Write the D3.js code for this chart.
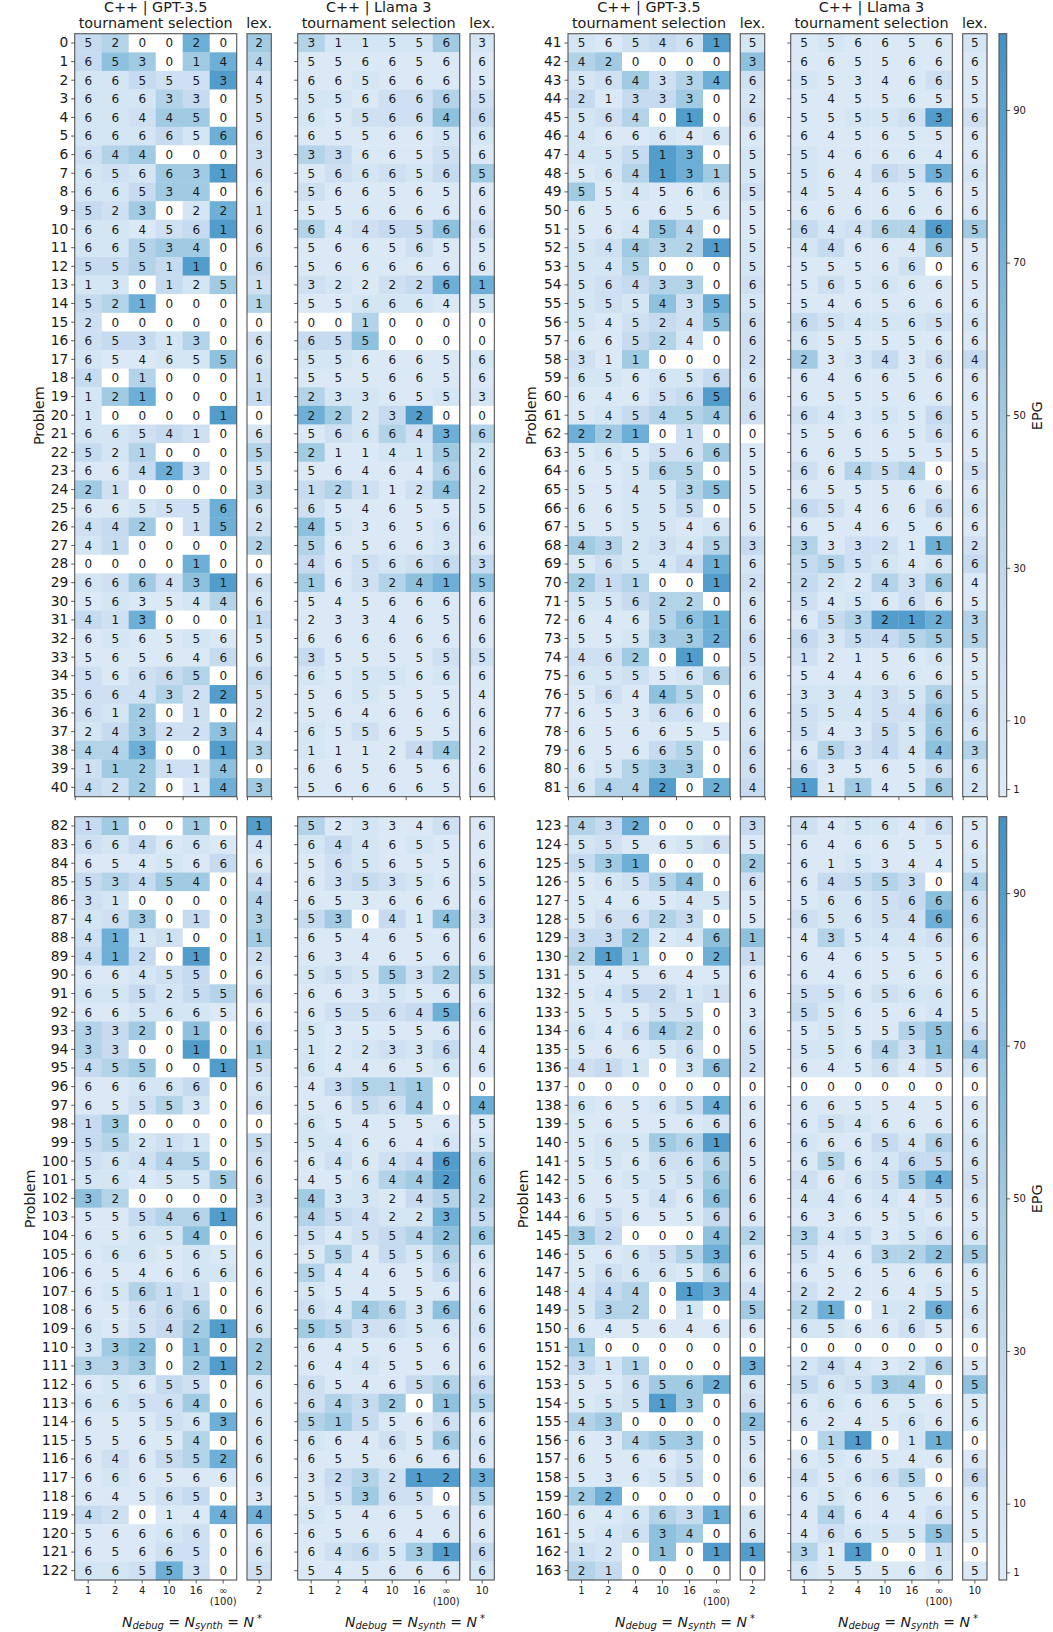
<!DOCTYPE html>
<html>
<head>
<meta charset="utf-8">
<script src="https://cdnjs.cloudflare.com/ajax/libs/d3/7.8.5/d3.min.js"></script>
<style>
html, body { margin: 0; padding: 0; background: #fff; }
svg { display: block; }
text { font-family: "DejaVu Sans", sans-serif; fill: #1a1a1a; }
</style>
</head>
<body>
<script>
// number of solved runs per problem (the digit printed in each cell), problems 0..163
var gptTour = (
  "520020 653014 665553 666330 664450 666656 644000 656631 665340 523022 664561 665340 555110 130125 521000 200000 653130 654655 401000 121000 100001 665410 521000 664230 210000 665556 442015 410000 000010 666431 563544 413000 656556 565646 566650 664322 612010 243223 443001 112114 422014 " +
  "565461 420000 564334 213330 564010 466646 455130 564131 554566 656656 564540 544321 545000 564330 555435 545245 665240 311000 656656 646565 545454 221010 565566 655650 554535 665550 555546 432345 565441 211001 556220 646561 555332 462010 655566 564450 653660 656655 656650 655330 644202 " +
  "110010 664666 654566 534540 310000 463010 411100 412010 664550 655255 665665 332010 330010 455001 666660 655530 130000 552110 564450 564555 320000 555461 656540 666565 654666 656110 656660 655421 332010 333021 656550 665640 655563 556540 646552 666566 645650 420144 566660 656650 665530 " +
  "432000 555656 531000 565540 546545 566230 332246 211002 545645 545211 555550 646420 566560 411036 000000 665654 565566 565561 556666 565556 655466 656556 320004 566553 566656 444013 532010 645646 100000 311000 556562 555130 430000 634530 656650 536550 220000 646631 546340 120101 210000"
).split(" ");

var llamaTour = (
  "311556 556656 665666 556666 655664 655665 336655 566656 566565 556666 644556 566565 566666 322226 556664 001000 655000 556665 555665 233655 222320 566643 211415 564646 121124 654655 453656 565663 465666 163241 545666 233465 666666 355555 655566 565555 564666 655655 111244 665656 566665 " +
  "556656 665566 553466 545565 555563 645655 546664 564655 454656 666666 644646 446646 555660 565666 546566 654565 655556 233436 646656 655566 643556 556656 665555 664540 655566 654666 654656 333211 555646 222436 545666 653212 635455 121566 544666 334356 554546 543556 653444 635656 111456 " +
  "523346 644655 565655 635356 653666 530414 654656 634656 555532 663556 655645 535556 122336 644656 435110 565640 654556 546646 646446 456442 433245 454223 545542 554556 544656 554556 644636 553656 645656 644556 654656 643201 515566 664656 655666 323212 553650 554656 656646 646531 545666 " +
  "445646 646655 615344 645530 566566 656546 435446 646555 646566 556566 556564 555555 556431 645645 000000 665545 654666 666546 656465 466554 446445 636556 345356 546322 656566 222645 210126 656665 000000 244326 565340 666656 624566 011011 656546 456650 656656 446446 466555 311001 655566"
).split(" ");

var gptLex = [
  2,4,4,5,5,6,3,6,6,1,6,6,6,1,1,0,6,6,1,1,0,6,5,5,3,6,2,2,0,6,6,1,5,6,6,5,2,4,3,0,3,
  5,3,6,2,6,6,5,5,5,5,5,5,5,6,5,6,6,2,6,6,6,0,5,5,5,5,6,3,6,2,6,6,6,5,6,6,6,6,6,6,4,
  1,4,6,4,4,3,1,2,6,6,6,6,1,5,6,6,0,5,6,6,3,6,6,6,6,6,6,6,2,2,6,6,6,6,6,6,3,4,6,6,5,
  3,5,2,6,5,5,1,1,6,6,3,6,5,2,0,6,6,6,5,6,6,6,2,6,6,4,5,6,0,3,6,6,2,5,6,6,0,6,6,1,0
];

var llamaLex = [
  3,6,5,5,6,6,6,5,6,6,6,5,6,1,5,0,0,6,6,3,0,6,2,6,2,5,6,6,3,5,6,6,6,5,6,4,6,6,2,6,6,
  5,6,5,5,6,6,6,6,5,6,5,5,6,5,6,6,6,4,6,6,5,6,5,5,6,6,6,2,6,4,5,3,5,5,5,5,6,6,3,6,2,
  6,6,6,5,6,3,6,6,5,6,6,6,4,6,0,4,5,5,6,6,2,5,6,6,6,6,6,6,6,6,6,5,6,6,6,3,5,6,6,6,6,
  5,6,5,4,6,6,6,6,6,6,5,6,4,6,0,6,6,6,6,5,6,5,6,5,6,5,6,6,0,5,5,5,6,0,6,6,6,5,5,0,5
];

// EPG read from the cell shade, stored as an index into epgBins (0 = no value, white)
var epgBins = [NaN, 3, 10, 17, 25, 37, 48, 58, 74, 90];

var gptTourEpg = (
  "450080 476068 224339 222540 223660 222428 356000 232669 224660 436028 221349 225660 445490 220426 458000 300000 344250 211227 405000 268000 200009 223430 425000 114830 630000 112338 346038 240000 000080 236379 121125 438000 121121 111114 313450 333539 326030 246337 558009 366337 436018 " +
  "213439 560000 236358 414460 235090 211212 224980 125986 612112 111111 112750 236559 225000 234550 232738 213437 114520 316000 221224 111349 124556 868030 121336 112550 112257 112240 112212 652325 132248 645009 224550 111578 112668 336090 223125 131750 111330 111111 111450 125660 255908 " +
  "460060 324121 111214 454660 320000 236040 382300 484090 112340 224245 112221 546070 540090 456009 112240 113520 460000 452320 323550 221226 750000 114559 112270 122121 111122 125430 113450 213469 267070 556069 121430 223360 111328 111150 131458 121111 111340 430118 111230 111330 223830 " +
  "548000 231123 468000 123570 111122 133540 447127 596008 111111 124423 111330 213650 111230 342027 000000 211248 111112 122659 121335 112236 111317 131114 640007 112358 132215 245098 255020 111111 600000 425000 113668 123960 560000 115660 111130 111240 680000 112548 123760 320709 540000"
).split(" ");

var llamaTourEpg = (
  "522226 111111 112111 221335 213337 111112 541113 132324 311111 111111 523447 111131 111111 321348 112221 005000 447000 221111 111111 522112 862490 132538 611226 111115 453137 311111 721112 511112 413234 613578 111111 111111 111111 411113 212212 112111 111111 213111 211146 111111 111111 " +
  "121111 111111 211113 111111 112239 111111 211111 211438 211111 111111 423559 241116 111130 131211 111111 432223 211111 612413 111111 111111 321214 111113 111111 315450 111111 431114 111111 513318 453212 421536 312131 145998 424456 311112 111111 222325 322336 311426 153427 311113 916116 " +
  "512113 242121 132111 134321 111111 460417 111111 111111 232636 111211 133348 211111 212324 211112 145560 114360 211111 221112 131349 112569 622145 543228 313457 151425 511114 211111 326527 653322 111111 112111 311145 354607 564113 211316 111111 145399 136330 211111 111111 134269 111111 " +
  "312213 111111 112111 144540 122347 322338 152223 111111 111111 331322 421112 121157 221537 111313 000000 111111 132111 211425 151244 312368 221213 111121 523123 311557 111111 311112 580228 221131 000000 242125 423660 121111 111121 059028 121111 312350 121111 151113 132227 519003 211112"
).split(" ");

var gptLexEpg = [
  6,5,3,3,3,3,3,3,2,3,3,3,4,3,5,0,3,2,3,4,0,2,5,2,5,2,3,5,0,3,2,4,2,2,4,3,3,2,5,0,6,
  2,7,3,2,3,1,2,2,3,1,1,2,2,3,2,3,3,3,2,3,3,0,1,1,1,1,1,4,2,3,2,2,3,3,2,2,2,2,3,3,4,
  9,2,1,4,5,5,6,3,2,4,1,4,6,3,2,3,0,4,3,3,4,2,2,2,2,2,2,3,6,6,2,2,2,2,2,2,1,8,1,2,3,
  4,1,6,3,1,1,7,4,1,1,1,2,3,3,0,1,1,1,1,1,1,1,5,2,1,3,6,1,0,8,2,3,7,2,1,2,0,2,2,9,0
];

var llamaLexEpg = [
  2,1,1,3,4,2,1,6,1,1,3,1,1,8,2,0,0,2,1,2,0,5,2,2,2,2,2,1,4,7,1,1,1,3,1,1,1,1,1,1,1,
  2,1,1,1,3,1,1,2,1,1,6,1,1,1,1,2,1,4,1,1,1,1,1,3,1,2,1,3,4,1,1,5,5,1,1,2,3,2,5,2,2,
  1,1,1,2,1,3,1,1,5,1,3,1,1,1,0,8,1,2,5,5,5,4,6,2,1,1,2,2,1,1,4,5,1,2,1,8,5,1,1,4,2,
  1,1,2,5,3,3,2,1,1,1,1,3,6,2,0,1,1,2,2,3,2,1,2,6,1,1,2,1,0,1,7,1,1,0,1,4,1,1,1,0,1
];

var xTickLabels = ["1", "2", "4", "10", "16", "\u221e"];
var cbarTicks = [1, 10, 30, 50, 70, 90];

// the four blocks of the figure
var blocks = [
  { from: 0, to: 41, top: 33.7, bottom: 796.7, tour1: [74.7, 236.7], lex1: [247, 271.3], tour2: [297.7, 459.7], lex2: [470, 494.3],
    probX: 44, isBottom: false },
  { from: 41, to: 82, top: 33.7, bottom: 796.7, tour1: [568, 730], lex1: [740.3, 764.7], tour2: [790.7, 952.3], lex2: [962.7, 987],
    cbar: [999, 1006.7], probX: 536, epgX: 1042, isBottom: false },
  { from: 82, to: 123, top: 816.7, bottom: 1580, tour1: [74.7, 236.7], lex1: [247, 271.3], tour2: [297.7, 459.7], lex2: [470, 494.3],
    probX: 35, isBottom: true, xlab1: 192, xlab2: 415 },
  { from: 123, to: 164, top: 816.7, bottom: 1580, tour1: [568, 730], lex1: [740.3, 764.7], tour2: [790.7, 952.3], lex2: [962.7, 987],
    cbar: [999, 1006.7], probX: 528, epgX: 1042, isBottom: true, xlab1: 685, xlab2: 908 }
];

var frameColor = '#555';

var color = d3.scaleLinear()
    .domain([0, 25, 50, 75, 100])
    .range(['#deebf7', '#c6dbef', '#9ecae1', '#6baed6', '#4292c6'])
    .clamp(true);

var svg = d3.select('body').append('svg')
    .attr('width', 1053)
    .attr('height', 1632);

var defs = svg.append('defs');
var grad = defs.append('linearGradient')
    .attr('id', 'cbarGrad')
    .attr('x1', 0).attr('y1', 1).attr('x2', 0).attr('y2', 0);
color.domain().forEach(function(v) {
    grad.append('stop').attr('offset', v + '%').attr('stop-color', color(v));
});

function styleAxis(g, size) {
    g.selectAll('.domain').remove();
    g.selectAll('line').attr('stroke', '#333').attr('stroke-width', 0.8);
    g.selectAll('text').attr('font-size', size).attr('fill', '#1a1a1a')
	.style('font-family', '"DejaVu Sans", sans-serif');
}

// one heatmap: cells is a list of rows, each row a list of {n, code}
function drawHeat(block, range, problems, cells, nCols) {
    var g = svg.append('g');
    var x = d3.scaleBand().domain(d3.range(nCols)).range(range);
    var y = d3.scaleBand().domain(problems).range([block.top, block.bottom]);

    cells.forEach(function(row, i) {
	var rowG = g.append('g');
	rowG.selectAll('rect')
	    .data(row)
	    .enter().append('rect')
	    .attr('x', function(d, j) { return x(j); })
	    .attr('y', y(problems[i]))
	    .attr('width', x.bandwidth() + 0.3)
	    .attr('height', y.bandwidth() + 0.3)
	    .style('fill', function(d) {
		return d.code ? color(epgBins[d.code]) : '#fff';
	    });
	rowG.selectAll('text')
	    .data(row)
	    .enter().append('text')
	    .attr('x', function(d, j) { return x(j) + x.bandwidth() / 2; })
	    .attr('y', y(problems[i]) + y.bandwidth() / 2 + 4.4)
	    .attr('text-anchor', 'middle')
	    .attr('font-size', 12)
	    .text(function(d) { return d.n; });
    });

    g.append('rect')
	.attr('x', range[0])
	.attr('y', block.top)
	.attr('width', range[1] - range[0])
	.attr('height', block.bottom - block.top)
	.style('fill', 'none')
	.style('stroke', frameColor)
	.style('stroke-width', 1.1);

    return { x: x, y: y };
}

function drawXAxis(block, scales, range, nCols, lexLabel) {
    var g = svg.append('g').attr('transform', 'translate(0,' + block.bottom + ')');
    if (block.isBottom) {
	var labels = nCols == 1 ? [lexLabel] : xTickLabels;
	g.call(d3.axisBottom(scales.x).tickSize(3.5).tickPadding(3)
	       .tickFormat(function(d) { return labels[d]; }));
	styleAxis(g, 10);
	if (nCols > 1) {
	    g.selectAll('.tick').filter(function(d) { return d == 5; })
		.select('text').append('tspan')
		.attr('x', 0).attr('dy', '1.15em').text('(100)');
	}
    } else {
	var edge = d3.scaleLinear().domain([0, nCols]).range(range);
	var vals = nCols == 1 ? [0, 1] : [0, 2, 4, 6];
	g.call(d3.axisBottom(edge).tickValues(vals).tickSize(3.5).tickFormat(''));
	styleAxis(g, 10);
    }
}

function drawYAxis(scales, xPos, showLabels) {
    var axis = d3.axisLeft(scales.y).tickSize(3.5).tickPadding(3);
    if (!showLabels) axis.tickFormat('');
    var g = svg.append('g').attr('transform', 'translate(' + xPos + ',0)').call(axis);
    styleAxis(g, 13.8);
}

function drawTitles(first, second, range, lexRange) {
    var cx = (range[0] + range[1]) / 2;
    svg.append('text').attr('x', cx).attr('y', 12).attr('text-anchor', 'middle')
	.attr('font-size', 14.4).text('C++ | ' + first);
    svg.append('text').attr('x', cx).attr('y', 27.6).attr('text-anchor', 'middle')
	.attr('font-size', 14.4).text(second);
    svg.append('text').attr('x', (lexRange[0] + lexRange[1]) / 2).attr('y', 27.6)
	.attr('text-anchor', 'middle').attr('font-size', 14.4).text('lex.');
}

function drawXLabel(cx, yPos) {
    var t = svg.append('text')
	.attr('x', cx).attr('y', yPos)
	.attr('text-anchor', 'middle')
	.attr('font-size', 14)
	.attr('font-style', 'italic');
    t.append('tspan').text('N');
    t.append('tspan').attr('font-size', 10).attr('dy', 2.5).text('debug');
    t.append('tspan').attr('dy', -2.5).attr('font-style', 'normal').text(' = ');
    t.append('tspan').text('N');
    t.append('tspan').attr('font-size', 10).attr('dy', 2.5).text('synth');
    t.append('tspan').attr('dy', -2.5).attr('font-style', 'normal').text(' = ');
    t.append('tspan').text('N');
    t.append('tspan').attr('font-size', 10).attr('dy', -5).attr('font-style', 'normal').text(' *');
}

function drawColorbar(block) {
    var r = block.cbar;
    svg.append('rect')
	.attr('x', r[0]).attr('y', block.top)
	.attr('width', r[1] - r[0]).attr('height', block.bottom - block.top)
	.style('fill', 'url(#cbarGrad)')
	.style('stroke', frameColor).style('stroke-width', 1.1);
    var scale = d3.scaleLinear().domain([0, 100]).range([block.bottom, block.top]);
    var g = svg.append('g').attr('transform', 'translate(' + r[1] + ',0)')
	.call(d3.axisRight(scale).tickValues(cbarTicks).tickSize(3.5).tickPadding(3));
    styleAxis(g, 10);
}

function rotated(txt, x, y) {
    svg.append('text')
	.attr('transform', 'translate(' + x + ',' + y + ') rotate(-90)')
	.attr('text-anchor', 'middle')
	.attr('font-size', 14.4)
	.text(txt);
}

function zipRows(counts, epg) {
    return counts.map(function(s, i) {
	return s.split('').map(function(c, j) {
	    return { n: +c, code: +epg[i][j] };
	});
    });
}

function zipLex(counts, epg) {
    return counts.map(function(n, i) {
	return [{ n: n, code: epg[i] }];
    });
}

blocks.forEach(function(b) {
    var problems = d3.range(b.from, b.to);

    var s1 = drawHeat(b, b.tour1, problems,
		      zipRows(gptTour.slice(b.from, b.to), gptTourEpg.slice(b.from, b.to)), 6);
    var s2 = drawHeat(b, b.lex1, problems,
		      zipLex(gptLex.slice(b.from, b.to), gptLexEpg.slice(b.from, b.to)), 1);
    var s3 = drawHeat(b, b.tour2, problems,
		      zipRows(llamaTour.slice(b.from, b.to), llamaTourEpg.slice(b.from, b.to)), 6);
    var s4 = drawHeat(b, b.lex2, problems,
		      zipLex(llamaLex.slice(b.from, b.to), llamaLexEpg.slice(b.from, b.to)), 1);

    drawYAxis(s1, b.tour1[0], true);
    drawYAxis(s3, b.tour2[0], false);

    drawXAxis(b, s1, b.tour1, 6);
    drawXAxis(b, s2, b.lex1, 1, '2');
    drawXAxis(b, s3, b.tour2, 6);
    drawXAxis(b, s4, b.lex2, 1, '10');

    if (!b.isBottom) {
	drawTitles('GPT-3.5', 'tournament selection', b.tour1, b.lex1);
	drawTitles('Llama 3', 'tournament selection', b.tour2, b.lex2);
    } else {
	drawXLabel(b.xlab1, 1626.5);
	drawXLabel(b.xlab2, 1626.5);
    }

    rotated('Problem', b.probX, (b.top + b.bottom) / 2 + 0.5);

    if (b.cbar) {
	drawColorbar(b);
	rotated('EPG', b.epgX, (b.top + b.bottom) / 2 + 0.5);
    }
});
</script>
</body>
</html>
